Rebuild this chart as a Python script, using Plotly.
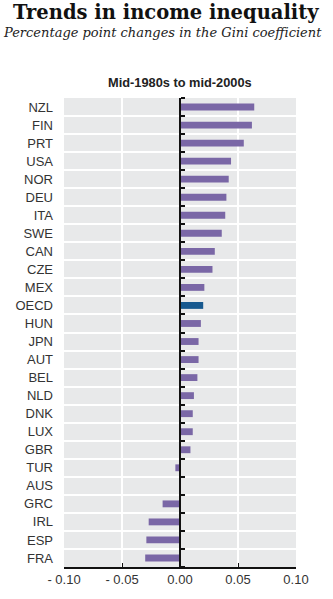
import plotly.graph_objects as go

countries = ["NZL", "FIN", "PRT", "USA", "NOR", "DEU", "ITA", "SWE", "CAN", "CZE",
             "MEX", "OECD", "HUN", "JPN", "AUT", "BEL", "NLD", "DNK", "LUX", "GBR",
             "TUR", "AUS", "GRC", "IRL", "ESP", "FRA"]
changes = [0.064, 0.062, 0.055, 0.044, 0.042, 0.040, 0.039, 0.036, 0.030, 0.028,
           0.021, 0.020, 0.018, 0.016, 0.016, 0.015, 0.012, 0.011, 0.011, 0.009,
           -0.004, 0.000, -0.015, -0.027, -0.029, -0.030]
tick_vals = [-0.10, -0.05, 0.00, 0.05, 0.10]
tick_text = ["- 0.10", "- 0.05", "0.00", "0.05", "0.10"]

title = "Trends in income inequality"
subtitle = "Percentage point changes in the Gini coefficient"
panel_title = "Mid-1980s to mid-2000s"

PURPLE = "#7a67a6"
BLUE = "#17598f"
colors = [BLUE if c == "OECD" else PURPLE for c in countries]
positions = list(range(len(countries)))
yrange = [len(countries) - 0.5, -0.5]

W, H = 333, 599
ML, MR, MT, MB = 64, 37, 98, 30
ph = H - MT - MB


def py(ypix):
    return (H - MB - ypix) / ph


fig = go.Figure()
fig.add_trace(go.Bar(
    x=changes, y=positions, orientation="h",
    marker=dict(color=colors, line=dict(width=0)),
    customdata=countries, hovertemplate="%{customdata}: %{x}<extra></extra>",
    showlegend=False,
))
fig.add_trace(go.Scatter(
    x=[0] * len(countries), y=positions, yaxis="y2", mode="markers",
    marker=dict(opacity=0), hoverinfo="skip", showlegend=False,
))

fig.update_layout(
    width=W, height=H,
    margin=dict(l=ML, r=MR, t=MT, b=MB, pad=0),
    paper_bgcolor="white",
    plot_bgcolor="#e8e9ea",
    bargap=0.62,
    font=dict(family="Liberation Sans, Arial, sans-serif", color="#333333", size=12),
    xaxis=dict(
        range=[-0.1, 0.1], tickvals=tick_vals, ticktext=tick_text,
        showgrid=True, gridcolor="white", gridwidth=2,
        zeroline=True, zerolinecolor="#111111", zerolinewidth=2,
        showline=True, linecolor="#111111", linewidth=1.5,
        ticks="inside", ticklen=4, tickcolor="#111111", tickwidth=1.2,
        tickfont=dict(size=13, color="#333333"),
        fixedrange=True,
    ),
    yaxis=dict(
        range=yrange, tickmode="array", tickvals=positions, ticktext=countries,
        showgrid=False, ticks="", showline=False, zeroline=False,
        minor=dict(tick0=0.5, dtick=1, showgrid=True, gridcolor="white",
                   gridwidth=2, ticks=""),
        tickfont=dict(size=13, color="#333333"),
        ticklabelstandoff=10,
        fixedrange=True,
    ),
    yaxis2=dict(
        range=yrange, overlaying="y", anchor="free", position=0.5,
        side="right", showgrid=False, zeroline=False,
        showline=True, linecolor="#111111", linewidth=2,
        ticks="", showticklabels=False,
        minor=dict(tick0=0.5, dtick=1, ticks="outside", ticklen=4,
                   tickcolor="#111111", tickwidth=1.5, showgrid=False),
        fixedrange=True,
    ),
    annotations=[
        dict(text="<b>" + title + "</b>", xref="paper", yref="paper",
             x=-(ML - 11) / (W - ML - MR), y=py(-1), xanchor="left", yanchor="top",
             showarrow=False,
             font=dict(family="DejaVu Serif, serif", size=19.5, color="#111111")),
        dict(text="<i>" + subtitle + "</i>", xref="paper", yref="paper",
             x=-(ML - 1) / (W - ML - MR), y=py(23), xanchor="left", yanchor="top",
             showarrow=False,
             font=dict(family="DejaVu Serif, serif", size=13, color="#222222")),
        dict(text="<b>" + panel_title + "</b>", xref="paper", yref="paper",
             x=0.5, y=py(82), xanchor="center", yanchor="middle",
             showarrow=False,
             font=dict(family="Liberation Sans, Arial, sans-serif", size=12.8, color="#222222")),
    ],
)

fig.write_html("out.html")
